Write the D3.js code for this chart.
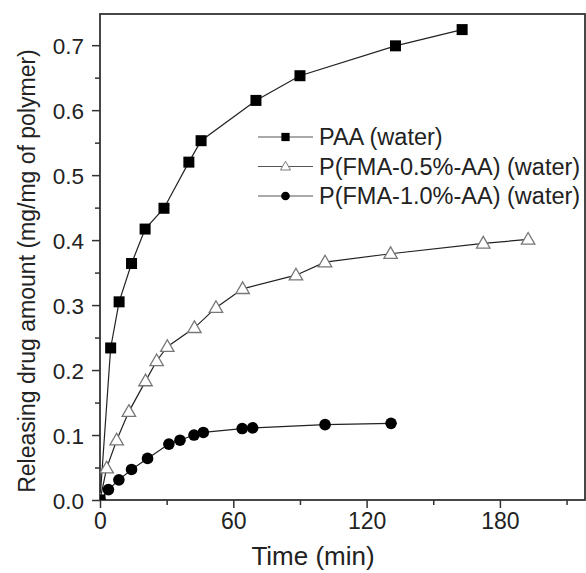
<html>
<head>
    <script src="https://d3js.org/d3.v7.min.js"></script>
    <style>
        body { margin: 0; background: #fff; }
        svg text { font-family: "Liberation Sans", Arial, sans-serif; fill: #222; }
    </style>
</head>
<body>
<div id="chart"></div>
<script>
    // release data
    var seriesNames = ["PAA (water)", "P(FMA-0.5%-AA) (water)", "P(FMA-1.0%-AA) (water)"];
    var paaTime = [0, 4.8, 8.6, 14.2, 20.3, 28.8, 40, 45.5, 70.2, 90, 133, 163];
    var paaValue = [0, 0.234, 0.305, 0.364, 0.417, 0.449, 0.52, 0.553, 0.615, 0.653, 0.699, 0.724];
    var fma05Time = [0, 3, 7.5, 13, 20.5, 25.5, 30.3, 42.5, 52.2, 64.2, 88.2, 101.3, 130.8, 172.5, 192.7];
    var fma05Value = [0, 0.049, 0.092, 0.136, 0.183, 0.214, 0.236, 0.265, 0.296, 0.325, 0.346, 0.366, 0.379, 0.395, 0.401];
    var fma10Time = [0, 3.8, 8.5, 14.2, 21.4, 31, 36, 42.3, 46.5, 64, 68.7, 101.3, 131];
    var fma10Value = [0, 0.016, 0.031, 0.047, 0.064, 0.086, 0.092, 0.1, 0.104, 0.110, 0.111, 0.116, 0.118];
    var xTicks = [0, 60, 120, 180];
    var yTicks = [0, 0.1, 0.2, 0.3, 0.4, 0.5, 0.6, 0.7];

    var width = 586, height = 573;
    var plotLeft = 100, plotRight = 585, plotTop = 14, plotBottom = 500;

    var svg = d3.select("#chart").append("svg")
        .attr("width", width)
        .attr("height", height);

    var x = d3.scaleLinear().domain([0, 218.3]).range([plotLeft, plotRight]);
    var y = d3.scaleLinear().domain([0, 0.748]).range([plotBottom, plotTop]);

    svg.append("clipPath").attr("id", "plot")
        .append("rect")
        .attr("x", plotLeft).attr("y", plotTop)
        .attr("width", plotRight - plotLeft).attr("height", plotBottom - plotTop);

    // minor ticks first, then major axes
    var xMinor = d3.axisBottom(x).tickValues([30, 90, 150, 210]).tickSize(5).tickFormat("");
    var yMinor = d3.axisLeft(y).tickValues(d3.range(0.05, 0.75, 0.1)).tickSize(5).tickFormat("");
    svg.append("g").attr("transform", "translate(0," + plotBottom + ")").call(xMinor);
    svg.append("g").attr("transform", "translate(" + plotLeft + ",0)").call(yMinor);

    var xAxis = svg.append("g")
        .attr("transform", "translate(0," + plotBottom + ")")
        .call(d3.axisBottom(x).tickValues(xTicks).tickSize(8).tickPadding(5).tickFormat(d3.format("d")));
    var yAxis = svg.append("g")
        .attr("transform", "translate(" + plotLeft + ",0)")
        .call(d3.axisLeft(y).tickValues(yTicks).tickSize(8).tickPadding(8).tickFormat(d3.format(".1f")));

    svg.selectAll(".domain").remove();
    svg.selectAll(".tick line").attr("stroke", "#333").attr("stroke-width", 1.5);
    xAxis.selectAll("text").attr("font-size", 23).attr("fill", "#222");
    yAxis.selectAll("text").attr("font-size", 22.5).attr("fill", "#222").attr("dy", "0.36em");

    svg.append("rect")
        .attr("x", plotLeft).attr("y", plotTop)
        .attr("width", plotRight - plotLeft).attr("height", plotBottom - plotTop)
        .attr("fill", "none")
        .attr("stroke", "#333")
        .attr("stroke-width", 1.8);

    svg.append("text")
        .attr("x", 313).attr("y", 565)
        .attr("text-anchor", "middle")
        .attr("font-size", 26)
        .text("Time (min)");

    svg.append("text")
        .attr("transform", "translate(35,271) rotate(-90)")
        .attr("text-anchor", "middle")
        .attr("font-size", 23)
        .text("Releasing drug amount (mg/mg of polymer)");

    function pts(ts, vs) {
        return ts.map(function(t, i) { return [t, vs[i]]; });
    }
    var series = [
        { name: seriesNames[0], data: pts(paaTime, paaValue), shape: "square" },
        { name: seriesNames[1], data: pts(fma05Time, fma05Value), shape: "triangle" },
        { name: seriesNames[2], data: pts(fma10Time, fma10Value), shape: "circle" }
    ];

    var line = d3.line()
        .x(function(d) { return x(d[0]); })
        .y(function(d) { return y(d[1]); });

    function drawMarker(sel, shape) {
        if (shape === "square") {
            sel.append("rect").attr("x", -5.5).attr("y", -5.5).attr("width", 11).attr("height", 11)
                .attr("fill", "#000");
        } else if (shape === "circle") {
            sel.append("circle").attr("r", 5.8).attr("fill", "#000");
        } else {
            sel.append("path").attr("d", d3.symbol(d3.symbolTriangle, 78)())
                .attr("transform", "translate(0,0.8)")
                .attr("fill", "#fff").attr("stroke", "#777").attr("stroke-width", 1.3);
        }
    }

    var plot = svg.append("g").attr("clip-path", "url(#plot)");
    series.forEach(function(s) {
        plot.append("path")
            .datum(s.data)
            .attr("d", line)
            .attr("fill", "none")
            .attr("stroke", "#222")
            .attr("stroke-width", 1.2);
    });
    series.forEach(function(s) {
        plot.selectAll(null)
            .data(s.data)
            .enter()
            .append("g")
            .attr("transform", function(d) { return "translate(" + x(d[0]) + "," + y(d[1]) + ")"; })
            .each(function() { drawMarker(d3.select(this), s.shape); });
    });

    // legend
    var legend = svg.append("g");
    series.forEach(function(s, i) {
        var ly = 137 + i * 29.5;
        legend.append("line")
            .attr("x1", 258).attr("x2", 313).attr("y1", ly).attr("y2", ly)
            .attr("stroke", "#555").attr("stroke-width", 1.2);
        var m = legend.append("g").attr("transform", "translate(285.5," + ly + ") scale(0.75)");
        drawMarker(m, s.shape);
        legend.append("text")
            .attr("x", 319).attr("y", ly)
            .attr("dy", "0.36em")
            .attr("font-size", 23.5)
            .text(s.name);
    });
</script>
</body>
</html>
